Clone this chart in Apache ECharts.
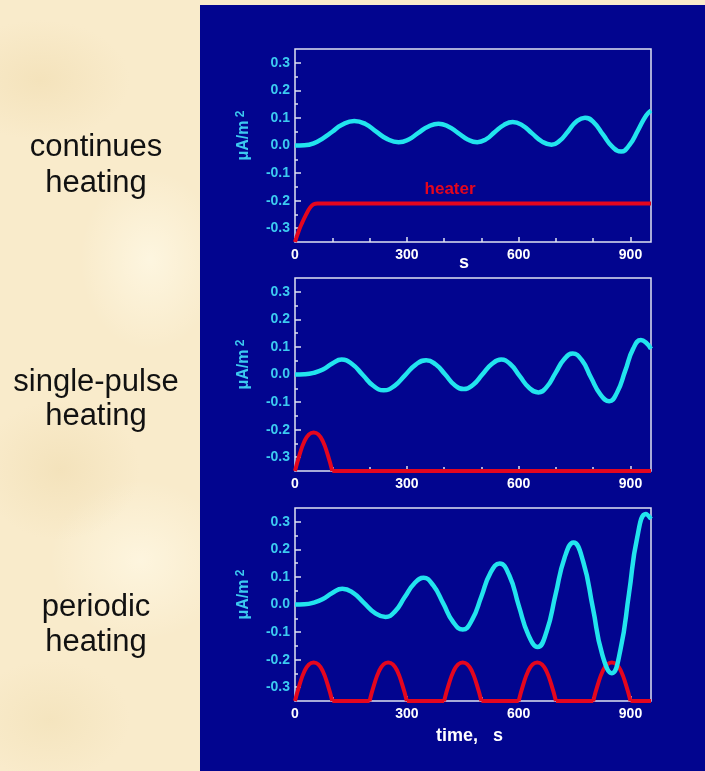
<!DOCTYPE html>
<html>
<head>
<meta charset="utf-8">
<script src="https://cdn.jsdelivr.net/npm/echarts@6/dist/echarts.min.js"></script>
<style>
  html, body { margin: 0; padding: 0; width: 705px; height: 771px; overflow: hidden; }
  body {
    background:
      radial-gradient(ellipse 90px 60px at 40px 80px, rgba(240,220,175,0.55), rgba(240,220,175,0) 100%),
      radial-gradient(ellipse 70px 90px at 150px 260px, rgba(255,250,232,0.7), rgba(255,250,232,0) 100%),
      radial-gradient(ellipse 80px 70px at 60px 470px, rgba(238,218,172,0.5), rgba(238,218,172,0) 100%),
      radial-gradient(ellipse 90px 80px at 140px 560px, rgba(255,249,230,0.7), rgba(255,249,230,0) 100%),
      radial-gradient(ellipse 80px 60px at 50px 720px, rgba(240,222,178,0.5), rgba(240,222,178,0) 100%),
      #f9ebcb;
  }
  #chart { width: 705px; height: 771px; }
</style>
</head>
<body>
<div id="chart"></div>
<script>
// Current density (µA/m²) vs time (s) for each heating regime
const timeContinuous = [0, 25, 50, 75, 100, 125, 159, 189, 218, 248, 278, 305, 331, 358, 385,
  411, 437, 463, 489, 513, 536, 560, 584, 610, 636, 662, 688, 710, 733, 755, 778, 802, 826,
  851, 875, 897, 920, 942, 955];
const currentContinuous = [0, 0.001, 0.008, 0.026, 0.050, 0.074, 0.089, 0.078, 0.050, 0.023,
  0.012, 0.022, 0.046, 0.069, 0.079, 0.069, 0.046, 0.022, 0.012, 0.023, 0.049, 0.074, 0.085,
  0.073, 0.044, 0.015, 0.003, 0.017, 0.052, 0.087, 0.101, 0.083, 0.040, -0.004, -0.022, 0.001,
  0.055, 0.109, 0.127];

const timeSingle = [0, 25, 50, 75, 100, 125, 153, 182, 210, 238, 267, 295, 324, 352, 377, 403,
  428, 453, 478, 503, 528, 553, 578, 603, 628, 653, 676, 699, 722, 745, 770, 794, 819, 843,
  864, 886, 907, 928, 942, 955];
const currentSingle = [0, 0.001, 0.006, 0.018, 0.040, 0.054, 0.038, -0.002, -0.041, -0.057,
  -0.041, -0.003, 0.036, 0.052, 0.037, 0.000, -0.038, -0.053, -0.037, 0.001, 0.038, 0.054,
  0.037, -0.006, -0.048, -0.065, -0.044, 0.006, 0.055, 0.076, 0.051, -0.011, -0.072, -0.097,
  -0.065, 0.014, 0.093, 0.125, 0.115, 0.093];

const timePeriodic = [0, 25, 50, 75, 100, 127, 156, 185, 214, 243, 269, 294, 320, 345, 371,
  398, 424, 450, 475, 500, 524, 549, 575, 600, 626, 651, 675, 699, 723, 747, 773, 799, 824,
  850, 873, 896, 918, 941, 955];
const currentPeriodic = [0, 0.001, 0.007, 0.020, 0.042, 0.057, 0.042, 0.006, -0.030, -0.045,
  -0.024, 0.026, 0.076, 0.097, 0.069, 0.003, -0.063, -0.091, -0.056, 0.029, 0.114, 0.149,
  0.105, -0.003, -0.110, -0.154, -0.098, 0.036, 0.169, 0.225, 0.156, -0.012, -0.180, -0.249,
  -0.164, 0.040, 0.243, 0.328, 0.310];

// Heater trace, continuous: quick ramp then constant
const heaterRampT = [0, 10, 20, 30, 40, 50, 60, 955];
const heaterRampV = [-0.35, -0.31, -0.278, -0.25, -0.226, -0.213, -0.21, -0.21];

// Heater pulse: shape within one 100 s pulse
const pulseOffsetT = [0, 12.5, 25, 37.5, 50, 62.5, 75, 87.5, 100];
const pulseShapeV = [-0.35, -0.29, -0.243, -0.217, -0.21, -0.217, -0.243, -0.29, -0.35];
const singlePulseStarts = [0];
const periodicPulseStarts = [0, 200, 400, 600, 800];
const heaterOffLevel = -0.35;

// Axis ticks
const xMajorTicks = [0, 300, 600, 900];
const xMinorTicks = [100, 200, 400, 500, 700, 800];
const yMajorTicks = [-0.3, -0.2, -0.1, 0, 0.1, 0.2, 0.3];
const yMinorTicks = [-0.25, -0.15, -0.05, 0.05, 0.15, 0.25];

const sideLabels = [['continues', 'heating'], ['single-pulse', 'heating'], ['periodic', 'heating']];

const X_MAX = 955;
const FRAME = '#dfe2f2';
const CYAN = '#22e4ee';
const CYAN_TEXT = '#3ccaf0';
const RED = '#e4061e';
const FONT = '"Liberation Sans", Arial, sans-serif';

function pairs(ts, vs) { return ts.map((t, i) => [t, vs[i]]); }

// Pulsed heater: each pulse as its own segment, flat "off" segments between them
function pulseTrain(starts) {
  const out = [];
  starts.forEach((s, k) => {
    pulseOffsetT.forEach((o, i) => out.push([s + o, pulseShapeV[i]]));
    out.push([s + 100, null]);
    const next = k + 1 < starts.length ? starts[k + 1] : X_MAX;
    out.push([s + 100, heaterOffLevel], [next, heaterOffLevel]);
    out.push([next, null]);
  });
  return out;
}

const panels = [
  { top: 49, current: pairs(timeContinuous, currentContinuous), heater: pairs(heaterRampT, heaterRampV),
    xName: 's', xNameGap: 12, xNamePad: [0, 18, 0, 0], label: true },
  { top: 278, current: pairs(timeSingle, currentSingle), heater: pulseTrain(singlePulseStarts), xName: '' },
  { top: 508, current: pairs(timePeriodic, currentPeriodic), heater: pulseTrain(periodicPulseStarts),
    xName: 'time,   s', xNameGap: 26, xNamePad: [0, 7, 0, 0] }
];

const grids = [], xAxes = [], yAxes = [], series = [];
panels.forEach((p, i) => {
  grids.push({ left: 295, top: p.top, width: 356, height: 193, show: true,
    borderColor: FRAME, borderWidth: 1.5, backgroundColor: 'transparent' });

  xAxes.push({
    gridIndex: i, type: 'value', position: 'bottom', min: 0, max: X_MAX,
    axisLine: { show: false, onZero: false }, splitLine: { show: false },
    axisTick: { show: true, inside: true, length: 5, customValues: xMajorTicks,
      lineStyle: { color: FRAME, width: 1.5 } },
    axisLabel: { customValues: xMajorTicks, color: '#ffffff', fontSize: 14, fontWeight: 'bold',
      fontFamily: FONT, margin: 6 },
    name: p.xName, nameLocation: 'middle', nameGap: p.xNameGap || 20, nameMoveOverlap: false,
    nameTextStyle: { color: '#ffffff', fontSize: 18, fontWeight: 'bold', fontFamily: FONT,
      padding: p.xNamePad || 0 }
  });
  xAxes.push({
    gridIndex: i, type: 'value', position: 'bottom', min: 0, max: X_MAX,
    axisLine: { show: false, onZero: false }, splitLine: { show: false }, axisLabel: { show: false },
    axisTick: { show: true, inside: true, length: 4, customValues: xMinorTicks,
      lineStyle: { color: FRAME, width: 1.5 } }
  });

  yAxes.push({
    gridIndex: i, type: 'value', position: 'left', min: -0.35, max: 0.35,
    axisLine: { show: false, onZero: false }, splitLine: { show: false },
    axisTick: { show: true, inside: true, length: 6, customValues: yMajorTicks,
      lineStyle: { color: FRAME, width: 1.5 } },
    axisLabel: { customValues: yMajorTicks, formatter: v => v.toFixed(1), color: CYAN_TEXT,
      fontSize: 14, fontWeight: 'bold', fontFamily: FONT, margin: 5 },
    name: '{a|μA/m} {b|2}', nameLocation: 'middle', nameGap: 42, nameRotate: 90,
    nameMoveOverlap: false,
    nameTextStyle: {
      color: CYAN_TEXT,
      padding: [0, 0, 0, 20],
      rich: {
        a: { fontSize: 16, fontWeight: 'bold', fontFamily: FONT, color: CYAN_TEXT, lineHeight: 18 },
        b: { fontSize: 12, fontWeight: 'bold', fontFamily: FONT, color: CYAN_TEXT, verticalAlign: 'top', lineHeight: 18 }
      }
    }
  });
  yAxes.push({
    gridIndex: i, type: 'value', position: 'left', min: -0.35, max: 0.35,
    axisLine: { show: false, onZero: false }, splitLine: { show: false }, axisLabel: { show: false },
    axisTick: { show: true, inside: true, length: 3, customValues: yMinorTicks,
      lineStyle: { color: FRAME, width: 1.5 } }
  });

  const heaterSeries = {
    type: 'line', xAxisIndex: 2 * i, yAxisIndex: 2 * i, data: p.heater,
    showSymbol: false, smooth: true, connectNulls: false, clip: false, z: 2,
    lineStyle: { color: RED, width: 4 }, itemStyle: { color: RED }
  };
  if (p.label) {
    heaterSeries.markPoint = {
      symbol: 'circle', symbolSize: 2, itemStyle: { color: 'transparent' },
      data: [{ coord: [416, -0.21] }],
      label: { show: true, position: 'top', distance: 5, formatter: 'heater', color: RED,
        fontSize: 17, fontWeight: 'bold', fontFamily: FONT }
    };
  }
  series.push(heaterSeries);
  series.push({
    type: 'line', xAxisIndex: 2 * i, yAxisIndex: 2 * i, data: p.current,
    showSymbol: false, smooth: true, clip: false, z: 3,
    lineStyle: { color: CYAN, width: 4.5 }, itemStyle: { color: CYAN }
  });
});

// Regime names beside each panel (line centres)
const labelCentres = [[147, 183], [382, 416], [607, 642]];
const graphics = [{
  type: 'rect', z: -10, silent: true,
  shape: { x: 200, y: 5, width: 505, height: 766 },
  style: { fill: '#02058f' }
}];
sideLabels.forEach((lines, k) => {
  lines.forEach((txt, j) => {
    graphics.push({
      type: 'text', silent: true,
      style: { text: txt, x: 96, y: labelCentres[k][j], textAlign: 'center',
        textVerticalAlign: 'middle', font: '31px ' + FONT, fill: '#111111' }
    });
  });
});

const chart = echarts.init(document.getElementById('chart'), null, { renderer: 'canvas' });
chart.setOption({
  animation: false,
  backgroundColor: 'transparent',
  graphic: graphics,
  grid: grids,
  xAxis: xAxes,
  yAxis: yAxes,
  series: series
});
</script>
</body>
</html>
